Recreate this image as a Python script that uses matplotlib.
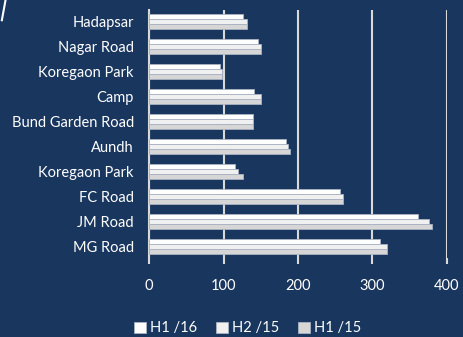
import numpy as np
import matplotlib.pyplot as plt

# data, bottom to top
areas = ['MG Road', 'JM Road', 'FC Road', 'Koregaon Park', 'Aundh',
         'Bund Garden Road', 'Camp', 'Koregaon Park', 'Nagar Road', 'Hadapsar']
h1_16 = [310, 361, 256, 116, 184, 140, 141, 95, 146, 126]
h2_15 = [320, 376, 260, 120, 186, 140, 150, 98, 150, 131]
h1_15 = [320, 380, 260, 126, 190, 140, 150, 98, 150, 131]
series_names = ['H1 /16', 'H2 /15', 'H1 /15']

bg = '#19365e'
plt.rcParams['font.family'] = ['Lato', 'DejaVu Sans']

fig = plt.figure(figsize=(4.63, 3.37), dpi=100, facecolor=bg)
ax = fig.add_axes([0.322, 0.234, 0.643, 0.736], facecolor=bg)

y = np.arange(len(areas))
h = 0.2
ax.barh(y + h, h1_16, height=h, color='#ffffff', edgecolor='#aab2c2', linewidth=0.6, label=series_names[0], zorder=3)
ax.barh(y, h2_15, height=h, color='#f0f0f0', edgecolor='#aab2c2', linewidth=0.6, label=series_names[1], zorder=3)
ax.barh(y - h, h1_15, height=h, color='#d6d6d6', edgecolor='#aab2c2', linewidth=0.6, label=series_names[2], zorder=3)

ax.set_xlim(0, 400)
ax.set_ylim(-0.48, 9.45)
ax.set_xticks([0, 100, 200, 300, 400])
ax.set_yticks(y)
ax.set_yticklabels(areas)
ax.xaxis.grid(True, color='#d9d9d9', linewidth=1.5, zorder=0)

for s in ['top', 'right', 'bottom']:
    ax.spines[s].set_visible(False)
ax.spines['left'].set_color('#d9d9d9')
ax.spines['left'].set_linewidth(1.5)

ax.tick_params(axis='y', length=0, colors='white', labelsize=10.5, pad=11)
ax.tick_params(axis='x', length=4, width=1.5, color='#d9d9d9', colors='white',
               labelsize=10.5, pad=11, direction='out')

fig.legend(loc='center', bbox_to_anchor=(0.535, 0.026), ncol=3, frameon=False,
           fontsize=10.5, labelcolor='white', handlelength=0.8, handleheight=0.8,
           handletextpad=0.3, columnspacing=1.3)

# small decorative arc in the corner
fig.add_artist(plt.Line2D([0.012, 0.004], [1.0, 0.94], color='white', linewidth=1.5))

fig.savefig('out.png', dpi=100, facecolor=bg)
